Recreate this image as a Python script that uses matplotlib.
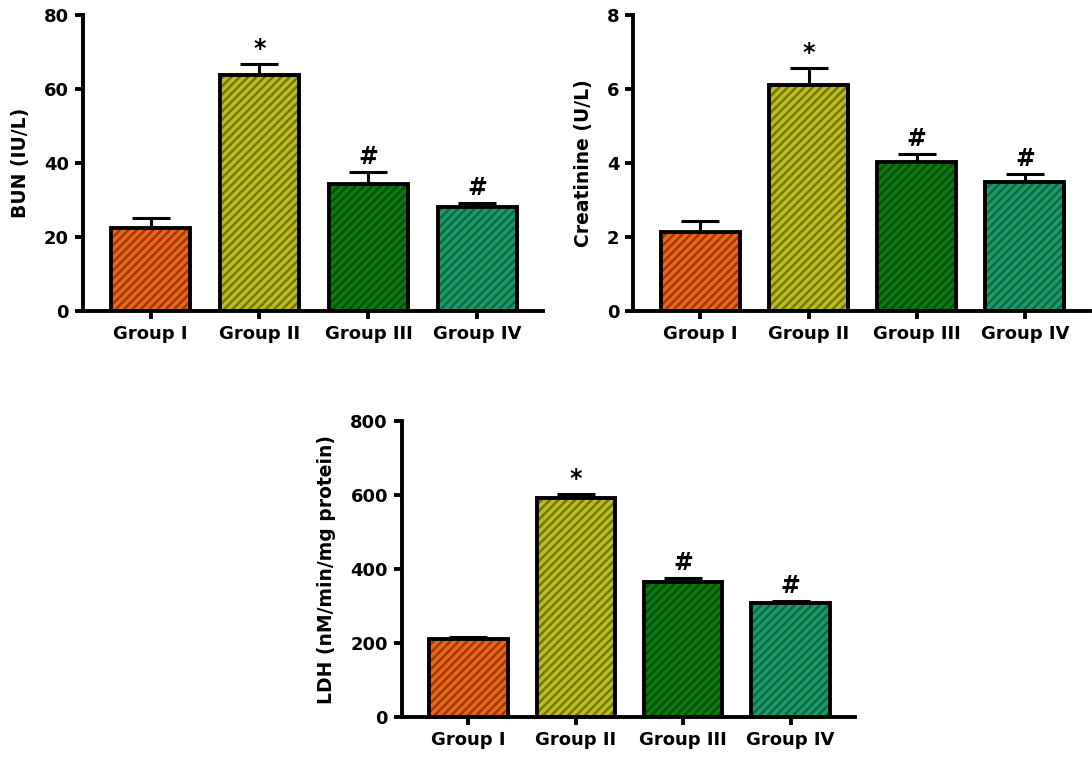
import numpy as np
import matplotlib as mpl
import matplotlib.pyplot as plt

mpl.rcParams['font.family'] = ['DejaVu Sans']
mpl.rcParams['font.weight'] = 'bold'
mpl.rcParams['hatch.linewidth'] = 1.8

groups = ['Group I', 'Group II', 'Group III', 'Group IV']

bun_mean = [22.4, 63.9, 34.4, 28.2]
bun_err = [2.9, 2.9, 3.3, 1.1]
creat_mean = [2.13, 6.12, 4.04, 3.48]
creat_err = [0.30, 0.46, 0.22, 0.24]
ldh_mean = [211, 592, 365, 308]
ldh_err = [5, 12, 11, 6]

marks = ['', '*', '#', '#']

FILL = ['#ef6618', '#bcbe1c', '#0c7a10', '#1c9c6a']
HATCH = ['#9a3a0a', '#74740a', '#07500a', '#0f6a44']


def bar_panel(ax, means, errs, ylabel, ymax, step):
    x = np.arange(len(groups))
    width = 0.73
    # filled, hatched body first, then the black outline on top
    for i in x:
        ax.bar(x[i], means[i], width, color=FILL[i], edgecolor=HATCH[i],
               hatch='////', linewidth=0, zorder=2)
    ax.bar(x, means, width, fill=False, edgecolor='black', linewidth=2.8, zorder=3)
    ax.errorbar(x, means, yerr=[np.zeros(len(x)), errs], fmt='none',
                ecolor='black', elinewidth=2.2, capsize=14, capthick=2.2, zorder=1)
    for i in x:
        if marks[i]:
            ax.annotate(marks[i], (x[i], means[i] + errs[i]), xytext=(0, 2),
                        textcoords='offset points', ha='center', va='bottom',
                        fontsize=17, fontweight='bold')

    ax.set_xlim(-0.62, 3.6)
    ax.set_ylim(0, ymax)
    ax.set_yticks(np.arange(0, ymax + step / 2, step))
    ax.set_xticks(x)
    ax.set_xticklabels(groups)
    ax.set_ylabel(ylabel, fontsize=13.5, fontweight='bold', labelpad=10)
    for side in ('top', 'right'):
        ax.spines[side].set_visible(False)
    for side in ('left', 'bottom'):
        ax.spines[side].set_linewidth(2.8)
    ax.tick_params(axis='both', width=2.8, length=6, labelsize=13, pad=4)
    for lab in ax.get_xticklabels() + ax.get_yticklabels():
        lab.set_fontweight('bold')


fig = plt.figure(figsize=(10.92, 7.59), dpi=100)

ax1 = fig.add_axes([0.076, 0.590, 0.421, 0.390])
bar_panel(ax1, bun_mean, bun_err, 'BUN (IU/L)', 80, 20)

ax2 = fig.add_axes([0.580, 0.590, 0.418, 0.390])
bar_panel(ax2, creat_mean, creat_err, 'Creatinine (U/L)', 8, 2)

ax3 = fig.add_axes([0.368, 0.0553, 0.415, 0.390])
bar_panel(ax3, ldh_mean, ldh_err, 'LDH (nM/min/mg protein)', 800, 200)

fig.savefig('out.png', dpi=100)
